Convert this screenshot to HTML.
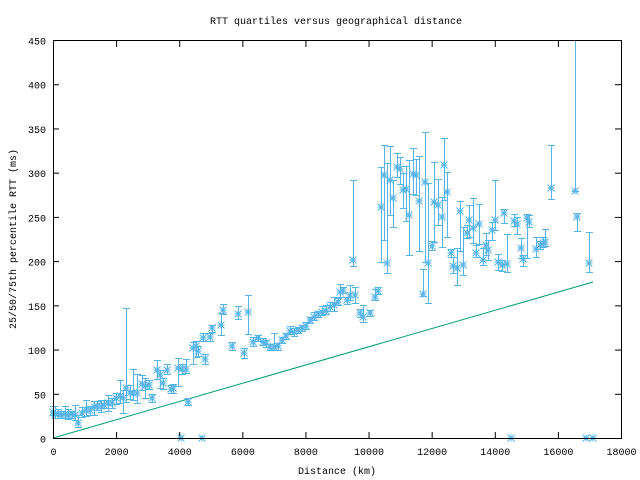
<!DOCTYPE html>
<html><head><meta charset="utf-8"><style>
html,body{margin:0;padding:0;background:#fff}
svg{display:block}
text{font-family:"Liberation Mono","DejaVu Sans Mono",monospace;font-size:10px;fill:#000}
</style></head><body>
<svg id="s" width="640" height="480" xmlns="http://www.w3.org/2000/svg">
<rect width="640" height="480" fill="#fff"/>
<text x="336" y="24" text-anchor="middle">RTT quartiles versus geographical distance</text>
<text x="337" y="474" text-anchor="middle">Distance (km)</text>
<text transform="translate(16,239) rotate(-90)" text-anchor="middle">25/50/75th percentile RTT (ms)</text>
<g id="ax"></g>
<polyline points="53,438 593,282" fill="none" stroke="#009e73" stroke-width="1"/>
<g id="d" stroke="#56b4e9" fill="none" stroke-width="1"></g>
<rect x="53.5" y="40.5" width="568" height="398" fill="none" stroke="#000"/>
</svg>
<script>
var ns="http://www.w3.org/2000/svg",ax=document.getElementById('ax'),d=document.getElementById('d');
function el(p,t,a,tx){var e=document.createElementNS(ns,t);for(var k in a)e.setAttribute(k,a[k]);if(tx!=null)e.textContent=tx;p.appendChild(e);return e;}
for(var i=0;i<=9;i++){var x=53.5+i*568/9;
el(ax,'line',{x1:x,y1:438,x2:x,y2:432,stroke:'#000'});el(ax,'line',{x1:x,y1:41,x2:x,y2:47,stroke:'#000'});
el(ax,'text',{x:x,y:455,'text-anchor':'middle'},String(i*2000));}
for(var i=0;i<=9;i++){var y=438.5-i*398/9;
el(ax,'line',{x1:53,y1:y,x2:59,y2:y,stroke:'#000'});el(ax,'line',{x1:621,y1:y,x2:615,y2:y,stroke:'#000'});
el(ax,'text',{x:46,y:y+4,'text-anchor':'end'},String(i*50));}
var P=[[53,412,6,3],[55,414,8,4],[58,414,5,4],[61,415,4,3],[65,414,8,4],[68,415,6,4],[72,414,3,4],[75,415,10,5],[78,423,8,4],[82,413,6,4],[86,410,10,6],[90,410,4,5],[94,407,6,8],[97,406,5,4],[101,406,6,6],[104,405,5,3],[108,403,8,8],[112,403,5,5],[116,398,5,6],[120,396,16,7],[123,398,8,15],[126,388,80,14],[130,393,8,6],[133,393,24,7],[137,393,19,10],[142,384,9,6],[145,386,8,12],[149,385,5,4],[152,398,4,4],[157,370,10,9],[160,375,5,13],[163,383,5,6],[167,370,6,4],[171,389,4,4],[173,388,4,5],[178,368,10,18],[182,369,5,5],[186,369,10,4],[188,402,4,3],[193,348,6,16],[196,346,5,11],[198,351,5,5],[205,359,5,5],[203,338,5,3],[210,337,4,4],[212,328,3,4],[221,325,12,10],[223,310,6,4],[232,346,4,4],[238,314,8,5],[244,353,5,5],[248,312,17,22],[253,342,5,4],[258,338,3,3],[263,342,4,3],[266,343,3,4],[270,347,3,3],[274,347,14,3],[278,346,3,4],[282,340,3,3],[286,336,3,3],[290,331,5,3],[294,332,4,4],[298,330,3,3],[302,328,3,3],[306,326,4,3],[310,320,3,3],[314,317,5,3],[318,314,3,3],[322,312,6,3],[326,311,6,3],[330,307,5,4],[334,305,8,6],[338,302,4,3],[340,292,8,5],[343,290,3,3],[347,300,3,4],[350,295,10,5],[353,260,80,6],[355,295,8,8],[360,313,4,4],[363,317,12,5],[370,313,3,3],[375,297,8,3],[378,291,4,3],[381,207,40,55],[384,175,30,65],[387,263,100,10],[390,180,34,35],[393,198,18,29],[397,167,14,10],[400,169,12,15],[403,190,17,18],[406,189,23,32],[409,215,55,40],[413,174,26,20],[416,175,16,20],[419,201,45,50],[423,294,25,2],[425,182,50,80],[428,263,80,40],[432,246,5,4],[434,202,40,40],[438,205,26,20],[442,217,20,30],[444,165,27,35],[447,192,20,45],[451,253,4,4],[453,266,9,7],[457,268,20,17],[460,211,10,40],[463,265,38,10],[467,233,8,5],[469,220,15,17],[473,228,30,15],[476,253,8,4],[479,224,20,20],[483,260,12,5],[486,245,12,10],[488,250,10,10],[492,230,8,10],[495,220,40,10],[498,262,8,8],[502,265,5,6],[504,213,4,10],[507,264,30,8],[514,221,7,5],[517,224,7,10],[521,248,10,10],[523,259,4,7],[527,218,4,40],[529,222,7,5],[536,249,12,8],[540,245,4,4],[543,243,6,4],[545,242,13,4],[551,188,43,11],[575,191,151,0],[577,217,4,14],[589,263,31,9],[181,438,0,0],[202,438,0,0],[511,438,0,0],[586,438,0,0],[593,438,0,0]];
P.forEach(function(p){var x=p[0],y=p[1];
if(p[2]+p[3]>0){el(d,'line',{x1:x+.5,y1:y-p[2],x2:x+.5,y2:y+p[3]});
el(d,'line',{x1:x-3,y1:y-p[2]+.5,x2:x+4,y2:y-p[2]+.5});el(d,'line',{x1:x-3,y1:y+p[3]+.5,x2:x+4,y2:y+p[3]+.5});}
var r=3.5;el(d,'path',{d:'M'+(x-r)+' '+y+'h'+(2*r)+'M'+x+' '+(y-r)+'v'+(2*r)+'M'+(x-r)+' '+(y-r)+'l'+(2*r)+' '+(2*r)+'M'+(x-r)+' '+(y+r)+'l'+(2*r)+' '+(-2*r)});});
</script>
</body></html>
